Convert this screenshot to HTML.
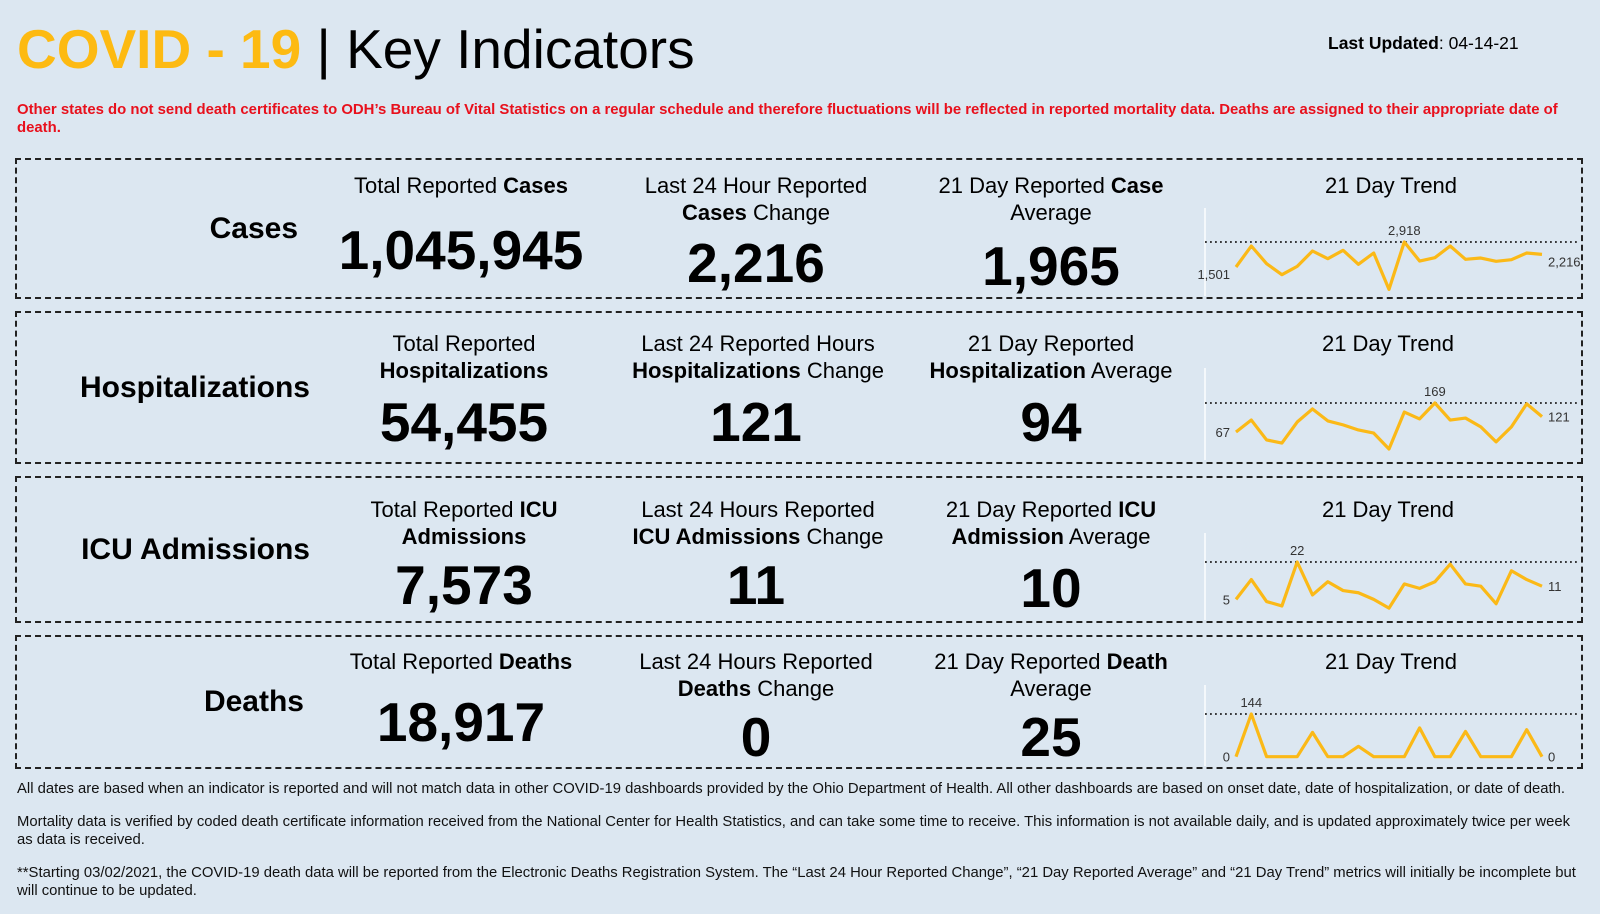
<!DOCTYPE html>
<html><head><meta charset="utf-8">
<style>
body{margin:0;width:1600px;height:914px;background:#dce7f1;font-family:"Liberation Sans",Arial,sans-serif;position:relative;overflow:hidden;color:#000}
.a{position:absolute;white-space:nowrap}
.box{position:absolute;left:15px;width:1568px;border:2px dashed #222;box-sizing:border-box}
.lbl{font-weight:bold;font-size:30px;text-align:right;width:300px;left:0}
.hd{font-size:22px;text-align:center;width:300px;line-height:27px;transform:translateX(-150px)}
.num{font-weight:bold;font-size:55px;text-align:center;width:320px;transform:translate(-160px,-50%)}
.ft{font-size:14.85px;color:#111;left:17px;white-space:normal;width:1560px;line-height:17.5px}
</style></head><body>
<div class="a" style="left:17px;top:17px;font-size:55px"><b style="color:#fdba12">COVID - 19</b> | Key Indicators</div>
<div class="a" style="left:1328px;top:33px;font-size:17.5px"><b>Last Updated</b>: 04-14-21</div>
<div class="a ft" style="top:102px;color:#e8101c;font-weight:bold;font-size:14.9px;width:1545px">Other states do not send death certificates to ODH’s Bureau of Vital Statistics on a regular schedule and therefore fluctuations will be reflected in reported mortality data. Deaths are assigned to their appropriate date of death.</div>

<div class="box" style="top:158px;height:141px"></div>
<div class="box" style="top:311px;height:153px"></div>
<div class="box" style="top:476px;height:147px"></div>
<div class="box" style="top:635px;height:134px"></div>

<div class="a lbl" style="top:212px;width:298px">Cases</div>
<div class="a lbl" style="top:371px;width:310px">Hospitalizations</div>
<div class="a lbl" style="top:533px;width:310px">ICU Admissions</div>
<div class="a lbl" style="top:685px;width:304px">Deaths</div>

<div class="a hd" style="left:461px;top:172px">Total Reported <b>Cases</b></div>
<div class="a hd" style="left:756px;top:172px">Last 24 Hour Reported<br><b>Cases</b> Change</div>
<div class="a hd" style="left:1051px;top:172px">21 Day Reported <b>Case</b><br>Average</div>
<div class="a hd" style="left:1391px;top:172px">21 Day Trend</div>
<div class="a num" style="left:461px;top:250px">1,045,945</div>
<div class="a num" style="left:756px;top:263px">2,216</div>
<div class="a num" style="left:1051px;top:266px">1,965</div>

<div class="a hd" style="left:464px;top:330px">Total Reported<br><b>Hospitalizations</b></div>
<div class="a hd" style="left:758px;top:330px">Last 24 Reported Hours<br><b>Hospitalizations</b> Change</div>
<div class="a hd" style="left:1051px;top:330px">21 Day Reported<br><b>Hospitalization</b> Average</div>
<div class="a hd" style="left:1388px;top:330px">21 Day Trend</div>
<div class="a num" style="left:464px;top:422px">54,455</div>
<div class="a num" style="left:756px;top:422px">121</div>
<div class="a num" style="left:1051px;top:422px">94</div>

<div class="a hd" style="left:464px;top:496px">Total Reported <b>ICU</b><br><b>Admissions</b></div>
<div class="a hd" style="left:758px;top:496px">Last 24 Hours Reported<br><b>ICU Admissions</b> Change</div>
<div class="a hd" style="left:1051px;top:496px">21 Day Reported <b>ICU</b><br><b>Admission</b> Average</div>
<div class="a hd" style="left:1388px;top:496px">21 Day Trend</div>
<div class="a num" style="left:464px;top:585px">7,573</div>
<div class="a num" style="left:756px;top:585px">11</div>
<div class="a num" style="left:1051px;top:588px">10</div>

<div class="a hd" style="left:461px;top:648px">Total Reported <b>Deaths</b></div>
<div class="a hd" style="left:756px;top:648px">Last 24 Hours Reported<br><b>Deaths</b> Change</div>
<div class="a hd" style="left:1051px;top:648px">21 Day Reported <b>Death</b><br>Average</div>
<div class="a hd" style="left:1391px;top:648px">21 Day Trend</div>
<div class="a num" style="left:461px;top:722px">18,917</div>
<div class="a num" style="left:756px;top:737px">0</div>
<div class="a num" style="left:1051px;top:737px">25</div>

<div class="a ft" style="top:781px">All dates are based when an indicator is reported and will not match data in other COVID-19 dashboards provided by the Ohio Department of Health. All other dashboards are based on onset date, date of hospitalization, or date of death.</div>
<div class="a ft" style="top:814px">Mortality data is verified by coded death certificate information received from the National Center for Health Statistics, and can take some time to receive. This information is not available daily, and is updated approximately twice per week as data is received.</div>
<div class="a ft" style="top:865px">**Starting 03/02/2021, the COVID-19 death data will be reported from the Electronic Deaths Registration System. The “Last 24 Hour Reported Change”, “21 Day Reported Average” and “21 Day Trend” metrics will initially be incomplete but will continue to be updated.</div>

<svg id="spark" width="1600" height="914" style="position:absolute;left:0;top:0" xmlns="http://www.w3.org/2000/svg"></svg>
<script>
const casesTrend=[1501,2691,1690,1066,1538,2408,1973,2446,1652,2294,234,2918,1841,2030,2691,1935,2011,1822,1916,2294,2216];
const hospTrend=[67,109,39,28,102,148,106,92,74,63,7,137,113,169,109,116,85,32,85,166,121];
const icuTrend=[5,14,4,2,22,7,13,9,8,5,1,12,10,13,21,12,11,3,18,14,11];
const deathsTrend=[0,144,0,0,0,82,0,0,35,0,0,0,97,0,0,85,0,0,0,91,0];
const charts=[
 {name:'cases',data:casesTrend,yMax:242,k:25/1417,top:208,bottom:296,dy:12},
 {name:'hospitalizations',data:hospTrend,yMax:403,k:0.284,top:368,bottom:460,dy:5},
 {name:'icu',data:icuTrend,yMax:562,k:2.197,top:533,bottom:620,dy:5},
 {name:'deaths',data:deathsTrend,yMax:714,k:0.2965,top:685,bottom:766,dy:5}
];
const svg=document.getElementById('spark');
const NS='http://www.w3.org/2000/svg';
const x0=1236,x1=1542,axisX=1205,lineEnd=1578;
function fmt(v){return v.toLocaleString('en-US');}
charts.forEach(c=>{
 const d=c.data,n=d.length,max=Math.max(...d);
 const xs=i=>x0+(x1-x0)*i/(n-1);
 const ys=v=>c.yMax+(max-v)*c.k;
 const ax=document.createElementNS(NS,'line');
 
 
 ax.setAttribute('x1',axisX);ax.setAttribute('x2',axisX);ax.setAttribute('y1',c.top);ax.setAttribute('y2',c.bottom);
 ax.setAttribute('stroke','#f4f8fb');ax.setAttribute('stroke-width','2');svg.appendChild(ax);
 const ref=document.createElementNS(NS,'line');
 
 
 ref.setAttribute('x1',axisX);ref.setAttribute('x2',lineEnd);ref.setAttribute('y1',ys(max));ref.setAttribute('y2',ys(max));
 ref.setAttribute('stroke','#222');ref.setAttribute('stroke-width','1.8');ref.setAttribute('stroke-dasharray','1.8 3.2');svg.appendChild(ref);
 const p=document.createElementNS(NS,'polyline');
 
 
 p.setAttribute('points',d.map((v,i)=>xs(i)+','+ys(v)).join(' '));
 p.setAttribute('fill','none');p.setAttribute('stroke','#fbb917');p.setAttribute('stroke-width','3.2');p.setAttribute('stroke-linejoin','round');
 svg.appendChild(p);
 const mi=d.indexOf(max);
 const labs=[[xs(0)-6,ys(d[0])+c.dy,'end',d[0],'first'],[xs(n-1)+6,ys(d[n-1])+c.dy,'start',d[n-1],'last'],[xs(mi),ys(max)-7,'middle',max,'max']];
 labs.forEach(l=>{
  const t=document.createElementNS(NS,'text');
  
  
  t.setAttribute('x',l[0]);t.setAttribute('y',l[1]);t.setAttribute('text-anchor',l[2]);
  t.setAttribute('font-size','13');t.setAttribute('fill','#333');t.setAttribute('font-family','Liberation Sans, sans-serif');
  t.textContent=fmt(l[3]);svg.appendChild(t);
 });
});
</script>
</body></html>
